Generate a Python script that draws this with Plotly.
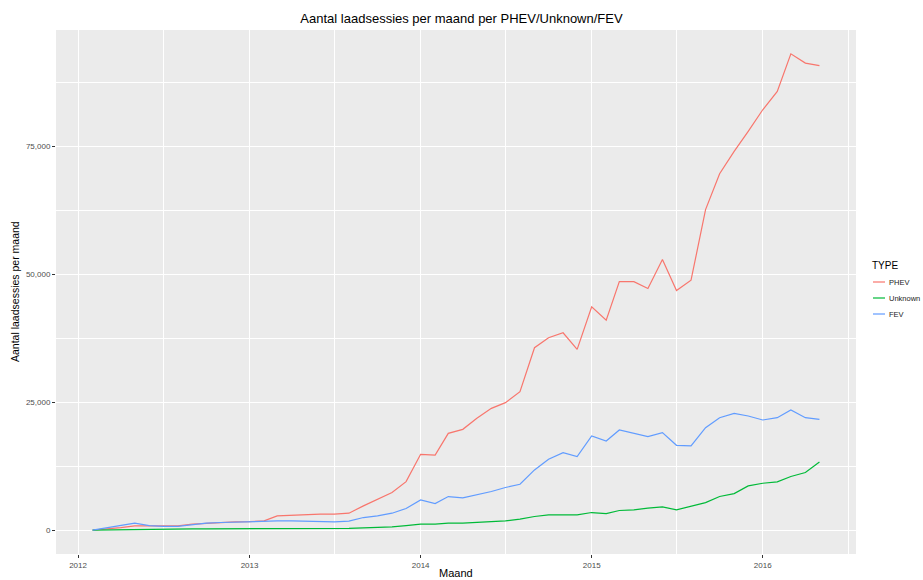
import plotly.graph_objects as go
import pandas as pd

months = pd.date_range("2012-02-01", "2016-05-01", freq="MS").strftime("%Y-%m-%d").tolist()

phev = [0, 200, 500, 850, 850, 800, 850, 1170, 1370, 1500, 1630,
        1690, 1820, 2800, 2930, 3120, 3120, 3120, 3320, 4750, 6050, 7360, 9500,
        14840, 14700, 18940, 19720, 21870, 23830, 24940, 27090, 35680, 37630, 38610, 35350,
        43700, 41070, 48600, 48600, 47260, 52930, 46870, 48880, 62690, 69720, 74080, 77990,
        82220, 85800, 93160, 91340, 90870]

unknown = [0, 50, 100, 150, 200, 250, 250, 250, 250, 250, 250,
           250, 250, 250, 250, 250, 250, 300, 350, 450, 550, 650, 900,
           1170, 1200, 1370, 1370, 1500, 1690, 1820, 2150, 2670, 3000, 3000, 3000,
           3450, 3250, 3850, 3970, 4300, 4560, 3970, 4620, 5400, 6580, 7160, 8650,
           9180, 9440, 10490, 11270, 13340]

fev = [0, 400, 850, 1370, 900, 750, 750, 1100, 1370, 1500, 1600,
       1700, 1800, 1800, 1800, 1760, 1700, 1630, 1760, 2470, 2800, 3320, 4240,
       5920, 5210, 6580, 6310, 6900, 7560, 8340, 8980, 11780, 13870, 15170, 14390,
       18420, 17440, 19600, 19000, 18300, 19080, 16600, 16470, 20050, 22000, 22850, 22330,
       21550, 22000, 23500, 22000, 21680]

series_names = ["PHEV", "Unknown", "FEV"]
series_values = [phev, unknown, fev]
series_colors = ["#F8766D", "#00BA38", "#619CFF"]

x_tick_vals = ["2012-01-01", "2013-01-01", "2014-01-01", "2015-01-01", "2016-01-01"]
x_tick_text = ["2012", "2013", "2014", "2015", "2016"]
x_minor_vals = ["2011-07-02", "2012-07-02", "2013-07-02", "2014-07-02", "2015-07-02", "2016-07-02"]
y_tick_vals = [0, 25000, 50000, 75000]
y_tick_text = ["0", "25,000", "50,000", "75,000"]
y_minor_vals = [12500, 37500, 62500, 87500]

FONT = "Liberation Sans, Arial, sans-serif"

W, H = 923, 580
ML, MR, MT, MB = 56, 67, 30, 26
PW, PH = W - ML - MR, H - MT - MB


def px_x(px):
    return (px - ML) / PW


def px_y(py):
    return (H - MB - py) / PH


fig = go.Figure()
for name, vals, col in zip(series_names, series_values, series_colors):
    fig.add_trace(go.Scatter(x=months, y=vals, mode="lines", name=name,
                             line=dict(color=col, width=1.2), showlegend=False))

annotations = [
    dict(text="Maand", xref="paper", yref="paper", x=0.5, y=px_y(573),
         xanchor="center", yanchor="middle", showarrow=False,
         font=dict(size=11, color="#000")),
    dict(text="Aantal laadsessies per maand", xref="paper", yref="paper",
         x=px_x(15), y=0.5, xanchor="center", yanchor="middle", textangle=-90,
         showarrow=False, font=dict(size=10.5, color="#000")),
    dict(text="TYPE", xref="paper", yref="paper", x=px_x(870), y=px_y(265),
         xanchor="left", yanchor="middle", showarrow=False,
         font=dict(size=10, color="#000")),
]
shapes = []
row_y = [282, 298, 314]
for name, col, ry in zip(series_names, series_colors, row_y):
    shapes.append(dict(type="line", xref="paper", yref="paper",
                       x0=px_x(873), x1=px_x(885), y0=px_y(ry), y1=px_y(ry),
                       line=dict(color=col, width=1.2)))
    annotations.append(dict(text=name, xref="paper", yref="paper",
                            x=px_x(887), y=px_y(ry), xanchor="left", yanchor="middle",
                            showarrow=False, font=dict(size=7.5, color="#222")))

fig.update_layout(
    width=W, height=H,
    margin=dict(l=ML, r=MR, t=MT, b=MB, autoexpand=False),
    paper_bgcolor="white",
    plot_bgcolor="#EBEBEB",
    font=dict(family=FONT, color="#000"),
    showlegend=False,
    title=dict(text="Aantal laadsessies per maand per PHEV/Unknown/FEV",
               x=0.5, xref="container", xanchor="center",
               y=1 - 18 / H, yref="container", yanchor="middle",
               font=dict(size=13, color="#000")),
    annotations=annotations,
    shapes=shapes,
    xaxis=dict(type="date", range=["2011-11-15", "2016-07-18"], automargin=False,
               tickmode="array", tickvals=x_tick_vals, ticktext=x_tick_text,
               tickfont=dict(size=8, color="#4D4D4D"),
               ticks="outside", ticklen=3, tickcolor="#333333",
               showgrid=True, gridcolor="white", gridwidth=1.1,
               minor=dict(tickmode="array", tickvals=x_minor_vals, showgrid=True,
                          gridcolor="white", gridwidth=0.5, ticks=""),
               zeroline=False, showline=False),
    yaxis=dict(range=[-4660, 97820], automargin=False,
               tickmode="array", tickvals=y_tick_vals, ticktext=y_tick_text,
               tickfont=dict(size=8, color="#4D4D4D"),
               ticks="outside", ticklen=3, tickcolor="#333333",
               showgrid=True, gridcolor="white", gridwidth=1.1,
               minor=dict(tickmode="array", tickvals=y_minor_vals, showgrid=True,
                          gridcolor="white", gridwidth=0.5, ticks=""),
               zeroline=False, showline=False),
)

fig.write_html("out.html", config={"displayModeBar": False},
               post_script="document.body.style.margin='0';document.body.style.overflow='hidden';")
